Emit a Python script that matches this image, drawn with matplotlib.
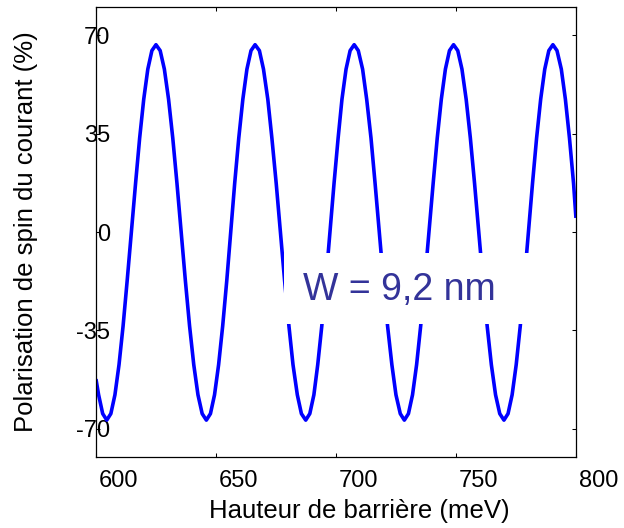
import numpy as np
import matplotlib
matplotlib.use('Agg')
import matplotlib.pyplot as plt
from matplotlib.patches import Rectangle
from matplotlib.transforms import ScaledTranslation

# hauteur de barriere (meV) et polarisation (%)
energie = [600.0, 601.1, 602.8,
           604.5, 606.2, 607.9, 609.6, 611.3, 613.0, 614.75, 616.5, 618.2, 619.9, 621.6, 623.3,
           625.0, 626.75, 628.5, 630.25, 632.0, 633.75, 635.5, 637.25, 639.0, 640.75, 642.5, 644.25,
           646.0, 647.7, 649.4, 651.1, 652.8, 654.5, 656.15, 657.8, 659.5, 661.2, 662.9, 664.6,
           666.3, 668.1, 669.8, 671.6, 673.3, 675.1, 676.85, 678.6, 680.4, 682.1, 683.9, 685.6,
           687.4, 689.1, 690.8, 692.4, 694.1, 695.8, 697.5, 699.2, 700.9, 702.5, 704.2, 705.9,
           707.6, 709.3, 711.1, 712.8, 714.6, 716.3, 718.05, 719.8, 721.5, 723.3, 725.0, 726.8,
           728.5, 730.2, 731.9, 733.6, 735.3, 737.0, 738.75, 740.5, 742.2, 743.9, 745.6, 747.3,
           749.0, 750.75, 752.5, 754.25, 756.0, 757.75, 759.5, 761.25, 763.0, 764.75, 766.5, 768.25,
           770.0, 771.7, 773.4, 775.1, 776.8, 778.5, 780.2, 781.9, 783.6, 785.3, 787.0, 788.7,
           790.4, 792.1, 793.9, 795.6, 797.3, 799.0, 800.0]
polar = [-52.3, -57.9, -64.6,
         -66.9, -64.6, -57.9, -47.2, -33.4, -17.3, 0.0, 17.3, 33.4, 47.2, 57.9, 64.5,
         66.6, 64.5, 57.9, 47.2, 33.4, 17.3, 0.0, -17.3, -33.4, -47.2, -57.9, -64.6,
         -66.9, -64.6, -57.9, -47.2, -33.4, -17.3, 0.0, 17.3, 33.4, 47.2, 57.9, 64.5,
         66.6, 64.5, 57.9, 47.2, 33.4, 17.3, 0.0, -17.3, -33.4, -47.2, -57.9, -64.6,
         -66.9, -64.6, -57.9, -47.2, -33.4, -17.3, 0.0, 17.3, 33.4, 47.2, 57.9, 64.5,
         66.6, 64.5, 57.9, 47.2, 33.4, 17.3, 0.0, -17.3, -33.4, -47.2, -57.9, -64.6,
         -66.9, -64.6, -57.9, -47.2, -33.4, -17.3, 0.0, 17.3, 33.4, 47.2, 57.9, 64.5,
         66.6, 64.5, 57.9, 47.2, 33.4, 17.3, 0.0, -17.3, -33.4, -47.2, -57.9, -64.6,
         -66.9, -64.6, -57.9, -47.2, -33.4, -17.3, 0.0, 17.3, 33.4, 47.2, 57.9, 64.5,
         66.6, 64.5, 57.9, 47.2, 33.4, 17.3, 5.0]

xticks = [600, 650, 700, 750, 800]
yticks = [-70, -35, 0, 35, 70]
legende = 'W = 9,2 nm'

plt.rcParams['font.family'] = ['Liberation Sans', 'DejaVu Sans']
plt.rcParams['axes.unicode_minus'] = False

fig = plt.figure(figsize=(6.24, 5.28), dpi=100)
ax = fig.add_axes([0.1538, 0.1345, 0.7692, 0.8522])

ax.plot(energie, polar, color='#0000ff', lw=2.6, solid_capstyle='butt',
        solid_joinstyle='round')

ax.set_xlim(600, 800)
ax.set_ylim(-80, 80)
ax.set_xticks(xticks)
ax.set_yticks(yticks)

ax.tick_params(direction='in', length=3.2, width=0.75, top=True, right=True,
               labelsize=17)
ax.tick_params(axis='x', pad=9.2)
ax.tick_params(axis='y', pad=-10.1)
for s in ax.spines.values():
    s.set_linewidth(0.9)

# etiquettes de l'axe x decalees vers la droite comme sur l'original
decal = ScaledTranslation(0.23, 0, fig.dpi_scale_trans)
for lab in ax.get_xticklabels():
    lab.set_transform(lab.get_transform() + decal)

ax.set_xlabel('Hauteur de barrière (meV)', fontsize=18.5)
ax.xaxis.set_label_coords(0.548, -0.094)
ax.set_ylabel('Polarisation de spin du courant (%)', fontsize=18.5)
ax.yaxis.set_label_coords(-0.121, 0.5)

ax.add_patch(Rectangle((678.3, -32.8), 104.6, 25.3, facecolor='white',
                       edgecolor='none', zorder=3))
ax.text(686.3, -24.2, legende, fontsize=27, color='#333399',
        ha='left', va='baseline', zorder=4)

fig.savefig('out.png', dpi=100)
